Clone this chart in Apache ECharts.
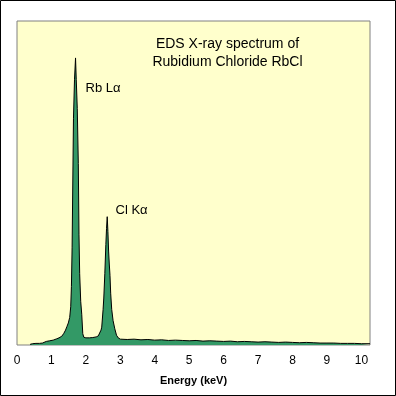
<!DOCTYPE html>
<html>
<head>
<meta charset="utf-8">
<script src="https://cdn.jsdelivr.net/npm/echarts@6/dist/echarts.min.js"></script>
<style>
html,body{margin:0;padding:0;background:#fff;}
#c{width:396px;height:396px;}
</style>
</head>
<body>
<div id="c"></div>
<script>
// Energy (keV) and intensity (relative counts)
const energy = [
  0.38,0.45,0.55,0.65,0.74,0.78,0.85,0.95,1.05,1.15,1.22,1.30,1.36,1.41,1.45,1.49,1.53,1.56,1.58,1.60,
  1.62,1.64,1.67,1.70,1.72,1.75,1.78,1.80,1.82,1.85,1.88,1.91,1.94,2.00,2.10,2.20,2.30,2.36,2.40,2.44,
  2.46,2.50,2.52,2.55,2.58,2.60,2.62,2.64,2.66,2.68,2.70,2.72,2.75,2.79,2.84,2.89,2.94,3.00,3.20,3.40,
  3.60,3.80,4.00,4.20,4.40,4.60,4.80,5.00,5.20,5.40,5.60,5.80,6.00,6.20,6.40,6.60,6.80,7.00,7.20,7.40,
  7.60,7.80,8.00,8.20,8.40,8.60,8.80,9.00,9.20,9.40,9.60,9.80,10.00,10.25
];
const counts = [
  0.2,0.4,0.5,0.5,0.6,1.0,1.1,1.3,1.5,1.9,2.2,2.7,3.6,4.6,5.7,6.8,8.5,11.8,18,30,
  50,70,82,88.6,82,73,56,34,22,13.5,9.5,3.5,2.4,2.2,2.2,2.3,2.5,2.8,3.2,4.6,
  5.5,11,14.5,22,31,36,39.6,35,29,25,21.5,16,11,7.5,5.0,3.0,2.2,1.8,1.7,1.8,
  1.6,1.7,1.5,1.6,1.4,1.5,1.4,1.3,1.4,1.2,1.3,1.2,1.1,1.2,1.0,1.1,1.0,0.9,1.0,0.9,
  0.8,0.9,0.8,0.7,0.8,0.7,0.6,0.6,0.6,0.5,0.5,0.5,0.4,0.4
];
const xTicks = [0,1,2,3,4,5,6,7,8,9,10];
const titleLines = ['EDS X-ray spectrum of', 'Rubidium Chloride RbCl'];
const peakLabels = ['Rb L\u03b1', 'Cl K\u03b1'];

const data = energy.map((e, i) => [e, counts[i]]);
const chart = echarts.init(document.getElementById('c'), null, {renderer: 'canvas'});
const font = 'Liberation Sans, Arial, sans-serif';
chart.setOption({
  animation: false,
  backgroundColor: '#ffffff',
  grid: {left: 17, right: 26, top: 21, bottom: 51, show: true,
         backgroundColor: '#FFFFCC', borderColor: '#808080', borderWidth: 1},
  xAxis: {
    type: 'value', min: 0, max: 10.25, interval: 1,
    axisLine: {show: false}, axisTick: {show: false}, splitLine: {show: false},
    axisLabel: {color: '#000', fontSize: 12, fontFamily: font, margin: 10,
      formatter: v => xTicks.indexOf(v) >= 0 ? String(v) : ''},
    name: 'Energy (keV)', nameLocation: 'middle', nameGap: 30,
    nameTextStyle: {color: '#000', fontSize: 11, fontWeight: 'bold', fontFamily: font}
  },
  yAxis: {type: 'value', min: 0, max: 100, show: false, splitLine: {show: false}},
  series: [{
    type: 'line', data: data, showSymbol: false, symbol: 'none',
    lineStyle: {color: '#000', width: 1},
    areaStyle: {color: '#339966', opacity: 1}
  }],
  graphic: [
    {type: 'rect', shape: {x: 0.5, y: 0.5, width: 395, height: 395},
     style: {fill: 'none', stroke: '#000', lineWidth: 1}, z: 100},
    {type: 'text', x: 227.5, y: 44, style: {text: titleLines[0], font: '14px ' + font,
     fill: '#000', textAlign: 'center', textVerticalAlign: 'middle'}, z: 100},
    {type: 'text', x: 227.5, y: 62, style: {text: titleLines[1], font: '14px ' + font,
     fill: '#000', textAlign: 'center', textVerticalAlign: 'middle'}, z: 100},
    {type: 'text', x: 85.5, y: 88, style: {text: peakLabels[0], font: '13px ' + font,
     fill: '#000', textAlign: 'left', textVerticalAlign: 'middle'}, z: 100},
    {type: 'text', x: 115.5, y: 210, style: {text: peakLabels[1], font: '13px ' + font,
     fill: '#000', textAlign: 'left', textVerticalAlign: 'middle'}, z: 100}
  ]
});
</script>
</body>
</html>
